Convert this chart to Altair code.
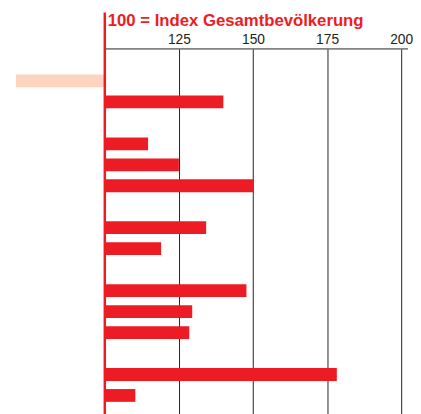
import altair as alt
import pandas as pd

# Data (index, 100 = total population)
slots = ["top", "r01", "r02", "g1", "r03", "r04", "r05", "g2", "r06", "r07", "g3",
         "r08", "r09", "r10", "g4", "r11", "r12", "bottom"]
values = [None, 70, 140, None, 114.6, 125, 150, None, 134.2, 119, None,
          147.8, 129.5, 128.5, None, 178.3, 110.3, None]
ticks = [125, 150, 175, 200]
title_text = "100 = Index Gesamtbevölkerung"

RED = "#ED1C24"
PEACH = "#FDD4C0"

rows = []
for s, v in zip(slots, values):
    if v is None:
        continue
    rows.append({"slot": s, "start": 100, "value": v,
                 "kind": "below" if v < 100 else "above"})
df = pd.DataFrame(rows)

W, H = 410, 385
xscale = alt.Scale(domain=[68, 204], nice=False, zero=False)
yscale = alt.Scale(domain=slots, paddingInner=0.39, paddingOuter=0.219)

bars = alt.Chart(df).mark_bar().encode(
    x=alt.X("start:Q", scale=xscale,
            axis=alt.Axis(orient="top", values=ticks, grid=True, domain=False,
                          ticks=False, labelPadding=3, labelFontSize=14,
                          labelFont="Liberation Sans", labelColor="#222",
                          gridColor="#222", gridWidth=1, gridOpacity=1,
                          title=None)),
    x2="value:Q",
    y=alt.Y("slot:N", scale=yscale, axis=None),
    color=alt.Color("kind:N", scale=alt.Scale(domain=["below", "above"],
                                               range=[PEACH, RED]), legend=None),
)

base = alt.Chart(pd.DataFrame({"a": [0]}))

domain_line = base.mark_rule(color="#222", strokeWidth=1).encode(
    x=alt.datum(100, scale=xscale), x2=alt.datum(202.3), y=alt.value(0)
)

red_line = base.mark_rule(color=RED, strokeWidth=2.5).encode(
    x=alt.datum(100, scale=xscale), y=alt.value(-37), y2=alt.value(H)
)

title = base.mark_text(align="left", baseline="alphabetic", dx=3,
                       font="Liberation Sans", fontWeight="bold",
                       fontSize=17, color=RED).encode(
    x=alt.datum(100, scale=xscale), y=alt.value(-23.5), text=alt.value(title_text)
)

chart = alt.layer(bars, domain_line, red_line, title).properties(
    width=W, height=H,
    autosize=alt.AutoSizeParams(type="none"),
    padding={"left": 2, "top": 38, "right": 0, "bottom": 0},
).configure_view(stroke=None)

chart.save("out.html", embed_options={"renderer": "svg", "actions": False})
